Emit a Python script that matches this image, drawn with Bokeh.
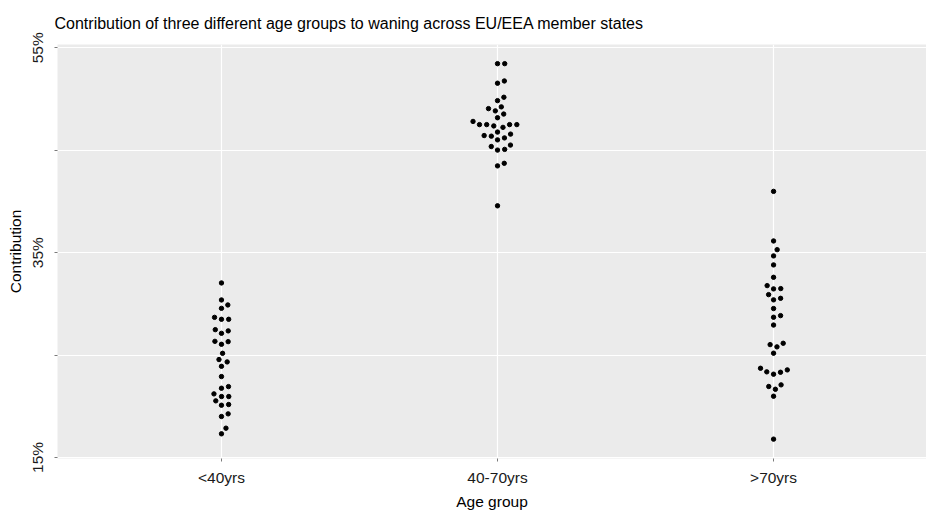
import numpy as np
from bokeh.plotting import figure
from bokeh.models import Range1d, FixedTicker, ColumnDataSource
from bokeh.embed import file_html
from bokeh.resources import INLINE

# ---------------- data ----------------
categories = ["<40yrs", "40-70yrs", ">70yrs"]
under40 = [32.04, 30.38, 29.89, 29.56, 28.68, 28.49, 28.49, 27.48, 27.36, 27.12,
           26.34, 26.31, 26.05, 25.17, 24.56, 24.33, 23.90, 22.90, 21.92, 21.76,
           21.21, 20.95, 20.95, 20.53, 20.17, 20.10, 19.26, 19.00, 17.86, 17.31]
age40to70 = [53.45, 53.45, 51.76, 51.54, 50.17, 49.84, 49.23, 49.06, 48.84, 48.53,
             48.17, 47.81, 47.50, 47.50, 47.50, 47.50, 47.37, 47.23, 46.77, 46.57,
             46.43, 46.37, 46.20, 46.01, 45.50, 45.36, 45.08, 45.01, 43.72, 43.47,
             39.57]
over70 = [40.98, 36.14, 35.29, 34.68, 33.80, 32.59, 31.78, 31.49, 31.46, 30.90,
          30.54, 30.39, 29.54, 28.85, 28.69, 27.93, 26.15, 26.02, 25.80, 25.18,
          23.71, 23.55, 23.36, 23.32, 23.13, 22.09, 21.93, 21.66, 20.98, 16.79]
y_ticks = [15, 25, 35, 45, 55]
y_tick_labels = ["15%", "", "35%", "", "55%"]

groups = [under40, age40to70, over70]

# ---------------- layout constants ----------------
W, H = 926, 513
B_LEFT, B_RIGHT, B_TOP, B_BOTTOM = 57, 0, 44, 55
Y0, Y1 = 14.9, 55.32
X0, X1 = 0.406, 3.554
frame_w = W - B_LEFT - B_RIGHT
frame_h = H - B_TOP - B_BOTTOM
px_x = frame_w / (X1 - X0)
px_y = frame_h / (Y1 - Y0)
DOT = 7.2  # swarm spacing in px


def swarm(vals, d):
    vals = np.asarray(vals, dtype=float)
    order = np.argsort(vals, kind="stable")
    placed = []
    xs = np.zeros(len(vals))
    for i in order:
        y = vals[i] * px_y
        cands = [0.0]
        for (qx, qy) in placed:
            dy = abs(qy - y)
            if dy < d:
                dx = np.sqrt(d * d - dy * dy)
                cands += [qx + dx, qx - dx]
        cands.sort(key=lambda c: (abs(c), -c))
        for c in cands:
            if all((c - qx) ** 2 + (y - qy) ** 2 >= d * d - 1e-6 for qx, qy in placed):
                xs[i] = c
                break
        placed.append((xs[i], y))
    return xs / px_x


xs_all, ys_all = [], []
for gi, vals in enumerate(groups):
    off = swarm(vals, DOT)
    xs_all += list(gi + 1 + off)
    ys_all += list(vals)

src = ColumnDataSource(dict(x=xs_all, y=ys_all))

FONT = "Liberation Sans"

p = figure(width=W, height=H, output_backend="svg", toolbar_location=None,
           x_range=Range1d(X0, X1), y_range=Range1d(Y0, Y1),
           min_border_left=B_LEFT, min_border_right=B_RIGHT,
           min_border_top=B_TOP, min_border_bottom=B_BOTTOM,
           title="Contribution of three different age groups to waning across EU/EEA member states")

p.background_fill_color = "#EBEBEB"
p.border_fill_color = "white"
p.outline_line_color = None

p.title.text_font = FONT
p.title.text_font_size = "16px"
p.title.text_font_style = "normal"
p.title.text_color = "black"
p.title.offset = -3
p.title.standoff = 25

p.scatter("x", "y", source=src, size=4.4, color="black")

# axes
p.xaxis.ticker = FixedTicker(ticks=[1, 2, 3])
p.xaxis.major_label_overrides = {i + 1: c for i, c in enumerate(categories)}
p.yaxis.ticker = FixedTicker(ticks=y_ticks)
p.yaxis.major_label_overrides = {t: l for t, l in zip(y_ticks, y_tick_labels)}
p.yaxis.major_label_orientation = "parallel"
p.xaxis.axis_label = "Age group"
p.yaxis.axis_label = "Contribution"

for ax in (p.xaxis[0], p.yaxis[0]):
    ax.axis_line_color = None
    ax.major_tick_line_color = "#7a7a7a"
    ax.major_tick_out = 3
    ax.major_tick_in = 0
    ax.minor_tick_line_color = None
    ax.major_label_text_font = FONT
    ax.major_label_text_font_size = "15.5px"
    ax.major_label_text_color = "#1a1a1a"
    ax.axis_label_text_font = FONT
    ax.axis_label_text_font_size = "15.5px"
    ax.axis_label_text_font_style = "normal"
    ax.axis_label_text_color = "black"

p.xaxis.major_label_standoff = 7
p.xaxis.axis_label_standoff = 4
p.yaxis.major_label_standoff = 8
p.yaxis.axis_label_standoff = 3

p.xgrid.grid_line_color = "white"
p.ygrid.grid_line_color = "white"
p.xgrid.grid_line_width = 1.2
p.ygrid.grid_line_width = 1.2

open("out.html", "w").write(file_html(p, INLINE))
